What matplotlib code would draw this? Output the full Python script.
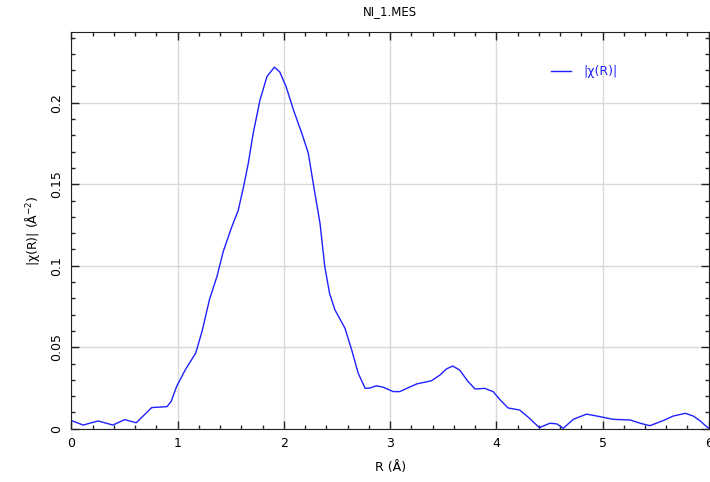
import numpy as np
import matplotlib
matplotlib.use('Agg')
import matplotlib.pyplot as plt
from matplotlib.ticker import MultipleLocator

# Dane: R (A) i |chi(R)|
r_vals = [0.00, 0.11, 0.25, 0.39, 0.50, 0.61, 0.755, 0.90, 0.94, 0.99, 1.07, 1.17,
          1.23, 1.30, 1.37, 1.43, 1.51, 1.57, 1.62, 1.665, 1.71, 1.775, 1.84, 1.91,
          1.96, 2.02, 2.09, 2.17, 2.23, 2.275, 2.34, 2.385, 2.43, 2.48, 2.575, 2.64,
          2.70, 2.765, 2.81, 2.87, 2.935, 3.03, 3.09, 3.25, 3.39, 3.47, 3.53, 3.59,
          3.655, 3.735, 3.80, 3.89, 3.97, 4.03, 4.11, 4.22, 4.31, 4.405, 4.505, 4.57,
          4.63, 4.725, 4.85, 4.98, 5.10, 5.26, 5.355, 5.445, 5.57, 5.665, 5.78, 5.855,
          5.92, 5.98, 6.00]
chi_vals = [0.0050, 0.0023, 0.0048, 0.0023, 0.0056, 0.0037, 0.0130, 0.0136, 0.0170,
            0.0260, 0.0360, 0.0465, 0.0600, 0.0795, 0.0935, 0.1090, 0.1240, 0.1340,
            0.1485, 0.1630, 0.1810, 0.2017, 0.2160, 0.2218, 0.2190, 0.2100, 0.1956,
            0.1810, 0.1690, 0.1510, 0.1260, 0.0995, 0.0830, 0.0730, 0.0617, 0.0480,
            0.0340, 0.0248, 0.0250, 0.0264, 0.0255, 0.0228, 0.0228, 0.0275, 0.0295,
            0.0330, 0.0367, 0.0385, 0.0360, 0.0289, 0.0244, 0.0248, 0.0228, 0.0182,
            0.0128, 0.0115, 0.0066, 0.0007, 0.0034, 0.0030, 0.0003, 0.0058, 0.0090,
            0.0074, 0.0058, 0.0054, 0.0034, 0.0019, 0.0050, 0.0078, 0.0095, 0.0078,
            0.0048, 0.0013, 0.0005]

x_ticks = [0, 1, 2, 3, 4, 5, 6]
y_ticks = [0, 0.05, 0.1, 0.15, 0.2]
y_tick_labels = ['0', '0.05', '0.1', '0.15', '0.2']

plt.rcParams['font.family'] = 'DejaVu Sans'
plt.rcParams['font.size'] = 9

fig = plt.figure(figsize=(7.1, 4.82), dpi=100)
ax = fig.add_axes([0.1007, 0.1104, 0.8975, 0.8232])

ax.plot(r_vals, chi_vals, color='#2020ff', lw=1.0, label='|χ(R)|')

ax.set_xlim(0, 6)
ax.set_ylim(0, 0.2434)
ax.set_xticks(x_ticks)
ax.set_yticks(y_ticks)
ax.set_yticklabels(y_tick_labels, rotation=90, va='center')
ax.xaxis.set_minor_locator(MultipleLocator(0.2))
ax.yaxis.set_minor_locator(MultipleLocator(0.01))
ax.tick_params(which='both', direction='in', top=True, right=True, color='#222222')
ax.tick_params(which='major', length=6, width=1)
ax.tick_params(which='minor', length=3, width=1)
ax.tick_params(axis='x', pad=6)
ax.tick_params(axis='y', pad=6)
ax.grid(True, which='major', color='#d9d9d9', lw=1)
ax.set_axisbelow(True)
for s in ax.spines.values():
    s.set_color('#222222')

ax.set_title('NI_1.MES', fontsize=8.5, pad=12)
ax.set_xlabel('R (Å)', labelpad=8)
ax.set_ylabel('|χ(R)| (Å$^{-2}$)', labelpad=6)

leg = ax.legend(loc='upper right', bbox_to_anchor=(0.875, 0.945), frameon=False,
                labelcolor='#2020ff', handlelength=1.6, handletextpad=1.0)

fig.savefig('out.png', dpi=100)
